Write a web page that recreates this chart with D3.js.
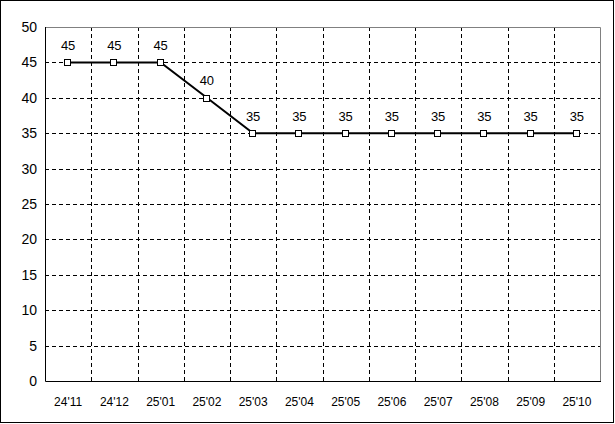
<!DOCTYPE html>
<html>
<head>
<meta charset="utf-8">
<script src="https://cdn.jsdelivr.net/npm/d3@7"></script>
<style>
  body { margin: 0; background: #fff; }
  svg { display: block; }
  text { font-family: "Liberation Sans", Arial, sans-serif; fill: #000; }
</style>
</head>
<body>
<div id="chart-area"></div>
<script>
// Datos
const months = ["24'11", "24'12", "25'01", "25'02", "25'03", "25'04", "25'05", "25'06", "25'07", "25'08", "25'09", "25'10"];
const values = [45, 45, 45, 40, 35, 35, 35, 35, 35, 35, 35, 35];
const yTicks = [0, 5, 10, 15, 20, 25, 30, 35, 40, 45, 50];

const W = 615, H = 424;
const plot = { left: 45, top: 27, right: 600, bottom: 381 };

const svg = d3.select("#chart-area").append("svg")
    .attr("width", W)
    .attr("height", H);

// Marco exterior
svg.append("rect")
    .attr("x", 0.5).attr("y", 0.5)
    .attr("width", W - 2).attr("height", H - 2)
    .attr("fill", "#fff")
    .attr("stroke", "#000");

// Escalas
const x = d3.scaleBand()
    .domain(months)
    .range([plot.left, plot.right]);

const y = d3.scaleLinear()
    .domain([0, 50])
    .range([plot.bottom, plot.top]);

// Rejilla horizontal
svg.append("g")
    .selectAll("line")
    .data(yTicks.filter(d => d > 0 && d < 50))
    .join("line")
    .attr("x1", plot.left).attr("x2", plot.right)
    .attr("y1", d => Math.round(y(d)) + 0.5)
    .attr("y2", d => Math.round(y(d)) + 0.5)
    .attr("stroke", "#000")
    .attr("stroke-dasharray", "4,3");

// Rejilla vertical
svg.append("g")
    .selectAll("line")
    .data(months.slice(1))
    .join("line")
    .attr("x1", d => Math.round(x(d)) + 0.5)
    .attr("x2", d => Math.round(x(d)) + 0.5)
    .attr("y1", plot.top).attr("y2", plot.bottom)
    .attr("stroke", "#000")
    .attr("stroke-dasharray", "4,3");

// Borde superior y derecho (gris)
svg.append("path")
    .attr("d", `M${plot.left},${plot.top + 0.5}H${plot.right + 0.5}V${plot.bottom}`)
    .attr("fill", "none")
    .attr("stroke", "#808080");

// Ejes
svg.append("path")
    .attr("d", `M${plot.left + 0.5},${plot.top}V${plot.bottom + 0.5}H${plot.right + 1}`)
    .attr("fill", "none")
    .attr("stroke", "#000");

// Etiquetas eje Y
svg.append("g")
    .selectAll("text")
    .data(yTicks)
    .join("text")
    .attr("x", 37)
    .attr("y", d => y(d))
    .attr("dy", "0.35em")
    .attr("text-anchor", "end")
    .attr("font-size", "14px")
    .text(d => d);

// Etiquetas eje X
svg.append("g")
    .selectAll("text")
    .data(months)
    .join("text")
    .attr("x", d => x(d) + x.bandwidth() / 2)
    .attr("y", 402)
    .attr("dy", "0.35em")
    .attr("text-anchor", "middle")
    .attr("font-size", "12px")
    .text(d => d);

const pts = months.map((m, i) => ({ m, v: values[i] }));

// Línea
svg.append("path")
    .datum(pts)
    .attr("fill", "none")
    .attr("stroke", "#000")
    .attr("stroke-width", 2)
    .attr("d", d3.line()
        .x(d => x(d.m) + x.bandwidth() / 2)
        .y(d => y(d.v)));

// Marcadores
svg.append("g")
    .selectAll("rect")
    .data(pts)
    .join("rect")
    .attr("x", d => Math.round(x(d.m) + x.bandwidth() / 2) - 3.5)
    .attr("y", d => Math.round(y(d.v)) - 2.5)
    .attr("width", 6).attr("height", 6)
    .attr("fill", "#fff")
    .attr("stroke", "#000");

// Etiquetas de datos
svg.append("g")
    .selectAll("text")
    .data(pts)
    .join("text")
    .attr("x", d => x(d.m) + x.bandwidth() / 2)
    .attr("y", d => y(d.v) - 17)
    .attr("dy", "0.35em")
    .attr("text-anchor", "middle")
    .attr("font-size", "13px")
    .text(d => d.v);
</script>
</body>
</html>
